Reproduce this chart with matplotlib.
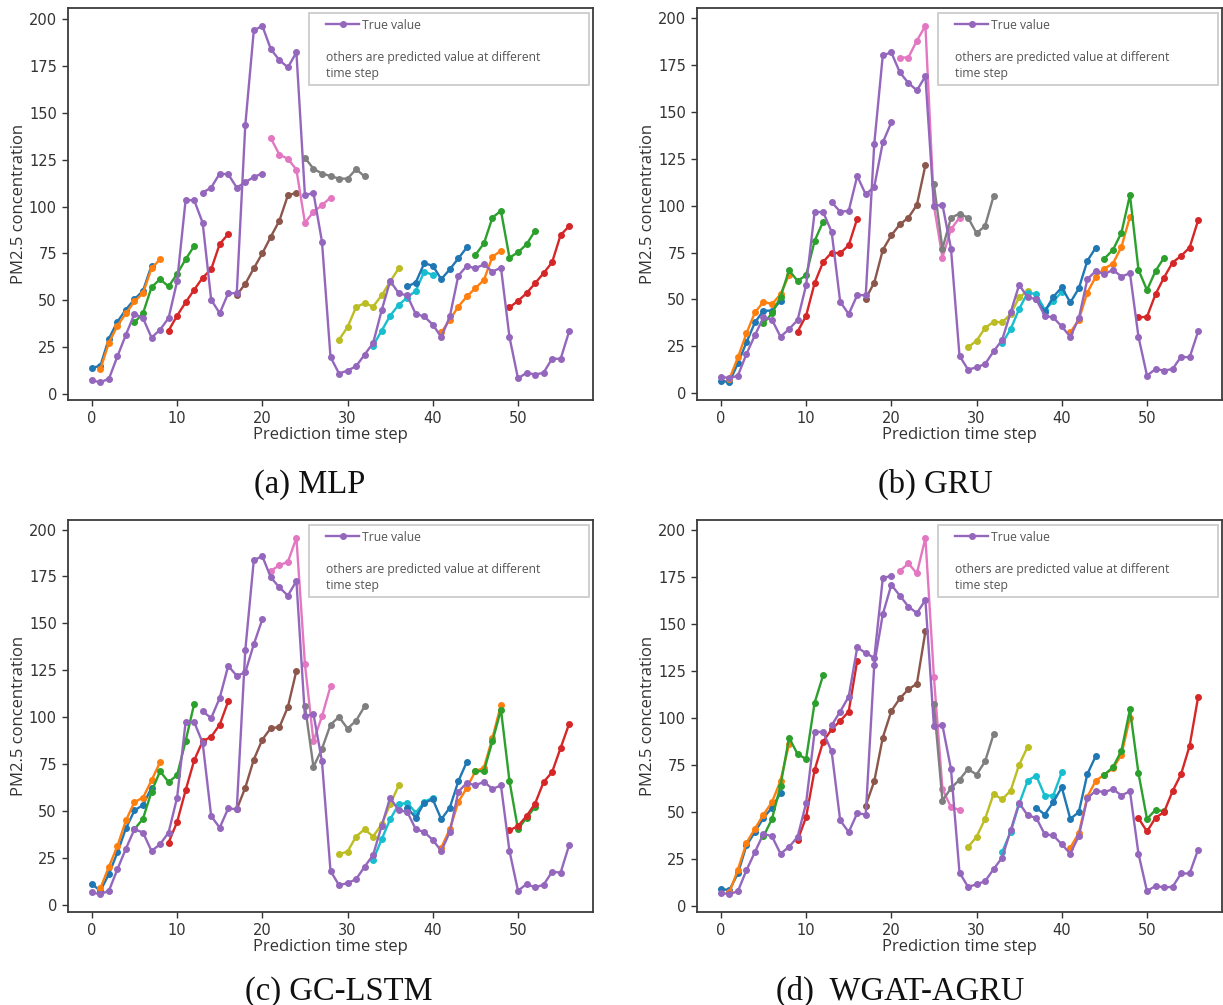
import numpy as np
import matplotlib
matplotlib.use('Agg')
from matplotlib import pyplot as plt
from matplotlib.lines import Line2D
from matplotlib.legend_handler import HandlerLine2D

# time steps of the true series, and where each 8-step prediction starts
steps = np.arange(57)
seg_starts = [0, 1, 5, 9, 13, 17, 21, 25, 29, 33, 37, 41, 45, 49]

true_mlp = [7.1, 6.2, 8.0, 20.0, 31.6, 42.7, 40.4, 30.0, 34.2, 40.4,
            60.0, 103.4, 103.4, 91.3, 50.2, 43.0, 53.7, 53.7, 143.3, 194.0,
            196.5, 184.0, 178.2, 174.3, 182.3, 106.0, 107.3, 81.2, 19.7, 10.8,
            12.4, 14.7, 20.9, 27.1, 44.5, 60.3, 53.7, 52.5, 42.6, 41.3,
            36.9, 30.3, 41.3, 63.1, 68.3, 67.0, 69.1, 65.2, 67.4, 30.3,
            8.2, 11.2, 10.3, 11.2, 18.8, 18.6, 33.3]
pred_mlp = [
    [13.8, 15.0, 29.5, 38.5, 45.0, 50.5, 55.0, 68.5],
    [13.1, 27.3, 36.3, 43.0, 49.3, 53.7, 67.0, 71.8],
    [38.1, 43.0, 56.9, 61.2, 57.3, 64.0, 71.8, 78.9],
    [33.7, 41.7, 48.8, 55.5, 62.0, 66.5, 80.0, 85.3],
    [107.4, 110.1, 117.6, 117.2, 110.1, 113.0, 115.8, 117.6],
    [52.8, 58.7, 67.0, 75.0, 83.9, 92.4, 106.0, 107.3],
    [136.5, 127.7, 125.5, 119.7, 91.3, 97.2, 100.7, 104.8],
    [126.0, 120.2, 117.6, 116.3, 114.9, 114.9, 119.9, 116.1],
    [28.9, 35.6, 46.3, 48.4, 46.6, 52.5, 59.9, 67.0],
    [25.7, 33.7, 41.7, 47.5, 51.4, 55.0, 65.2, 63.5],
    [57.3, 59.4, 69.7, 68.4, 61.2, 66.5, 72.3, 78.2],
    [32.8, 39.5, 46.6, 52.0, 56.4, 60.8, 73.2, 76.4],
    [74.1, 80.3, 94.1, 97.7, 72.7, 75.5, 79.8, 87.0],
    [46.1, 49.6, 53.7, 59.0, 64.4, 70.2, 84.8, 89.5],
]

true_gru = [8.9, 8.0, 9.4, 20.9, 31.0, 40.4, 39.2, 30.1, 34.2, 39.0,
            57.6, 96.6, 96.6, 86.0, 48.8, 42.2, 52.3, 52.3, 133.0, 180.2,
            181.7, 171.1, 165.4, 161.5, 169.0, 99.8, 100.5, 77.1, 20.0, 12.6,
            13.8, 15.6, 22.3, 28.4, 43.1, 57.8, 51.1, 50.2, 41.3, 40.4,
            35.6, 30.1, 39.9, 60.8, 65.2, 63.5, 65.8, 62.2, 64.0, 30.1,
            9.4, 12.9, 12.1, 12.9, 19.5, 19.1, 33.0]
pred_gru = [
    [6.7, 5.9, 16.0, 27.1, 37.8, 44.0, 44.0, 49.3],
    [7.6, 19.1, 31.9, 43.1, 48.8, 47.5, 52.8, 63.0],
    [37.2, 42.6, 51.4, 65.6, 59.9, 62.9, 81.2, 91.5],
    [32.8, 41.3, 58.7, 70.0, 75.0, 74.6, 78.9, 93.1],
    [101.9, 96.8, 97.2, 115.8, 106.0, 110.1, 133.7, 144.4],
    [50.5, 59.0, 76.4, 84.2, 90.0, 93.6, 100.4, 121.6],
    [179.0, 179.0, 188.0, 195.9, 100.0, 72.3, 87.4, 93.6],
    [111.3, 77.1, 93.6, 95.7, 93.6, 85.3, 89.2, 105.1],
    [24.5, 28.0, 34.8, 38.1, 37.8, 42.2, 51.1, 54.6],
    [26.6, 34.2, 44.9, 53.7, 52.8, 44.5, 49.0, 54.0],
    [50.0, 43.5, 51.4, 56.4, 48.4, 55.9, 70.6, 77.7],
    [32.4, 39.2, 53.7, 62.2, 66.5, 69.1, 78.0, 94.1],
    [71.8, 76.4, 85.6, 105.7, 65.8, 55.0, 65.2, 72.3],
    [40.4, 40.8, 52.8, 61.7, 69.7, 73.2, 77.7, 92.2],
]

true_gclstm = [6.7, 5.8, 7.6, 19.1, 30.1, 40.4, 38.6, 28.8, 32.4, 38.6,
               57.2, 97.5, 97.5, 86.4, 47.4, 41.2, 51.5, 51.0, 135.6, 183.7,
               185.8, 174.5, 169.2, 164.8, 172.6, 100.5, 101.8, 76.6, 18.2, 10.6,
               11.7, 13.8, 20.4, 26.7, 42.1, 57.2, 50.4, 49.7, 40.4, 38.9,
               34.7, 28.8, 38.9, 60.4, 65.1, 63.7, 65.7, 61.9, 63.7, 28.8,
               7.6, 11.2, 9.4, 10.8, 17.7, 17.3, 31.9]
pred_gclstm = [
    [11.2, 7.6, 16.5, 28.0, 40.9, 50.4, 53.3, 62.5],
    [9.0, 20.4, 31.5, 45.1, 54.9, 57.2, 66.4, 76.1],
    [40.4, 46.0, 60.4, 71.3, 65.5, 69.2, 87.3, 107.1],
    [33.3, 44.2, 61.1, 77.0, 87.3, 89.6, 96.1, 108.5],
    [103.2, 99.6, 110.3, 127.4, 122.1, 123.9, 138.9, 152.2],
    [51.0, 62.5, 77.5, 88.1, 94.3, 94.7, 105.5, 124.8],
    [178.0, 181.0, 182.8, 195.6, 128.3, 87.3, 100.5, 116.5],
    [106.2, 73.6, 83.2, 96.1, 100.2, 94.0, 98.2, 105.8],
    [27.1, 28.5, 36.5, 40.4, 36.5, 43.0, 53.6, 63.7],
    [23.9, 35.0, 45.7, 53.6, 54.5, 49.2, 54.9, 57.2],
    [51.9, 46.5, 54.5, 56.3, 45.7, 51.9, 66.0, 76.3],
    [30.6, 40.4, 54.9, 62.5, 71.3, 73.1, 89.0, 106.7],
    [71.3, 71.3, 87.3, 104.1, 66.0, 40.4, 46.5, 52.2],
    [39.8, 42.1, 47.4, 54.0, 65.5, 70.8, 83.7, 96.5],
]

true_wgat = [7.0, 6.3, 7.9, 19.0, 28.7, 38.4, 37.0, 27.8, 31.4, 36.7,
             54.6, 92.5, 92.5, 82.1, 45.5, 39.3, 49.3, 48.6, 128.3, 155.0,
             170.6, 164.9, 159.1, 155.6, 162.6, 95.5, 96.0, 72.8, 17.8, 10.2,
             11.5, 13.2, 19.6, 25.7, 40.2, 54.8, 48.1, 46.9, 38.1, 37.5,
             32.8, 27.8, 37.2, 57.3, 61.3, 60.4, 62.2, 58.7, 61.0, 27.8,
             7.9, 10.7, 9.9, 10.2, 17.3, 17.3, 30.0]
pred_wgat = [
    [9.0, 8.5, 17.3, 32.2, 39.3, 46.9, 52.2, 60.0],
    [7.2, 19.4, 33.5, 41.1, 48.6, 55.2, 66.6, 86.0],
    [37.0, 46.3, 64.0, 89.5, 80.7, 78.1, 108.0, 122.6],
    [34.9, 47.2, 72.2, 87.4, 93.9, 98.3, 103.3, 130.4],
    [96.0, 103.3, 111.2, 137.4, 134.4, 131.8, 174.1, 175.5],
    [53.4, 66.3, 89.5, 103.6, 110.3, 115.1, 118.1, 145.9],
    [178.0, 182.0, 176.7, 195.6, 121.6, 62.2, 52.5, 51.1],
    [107.1, 56.0, 62.6, 67.1, 72.8, 69.8, 76.8, 91.3],
    [31.4, 36.7, 46.3, 59.6, 56.6, 61.3, 75.1, 84.6],
    [28.7, 39.3, 54.3, 66.6, 69.3, 58.7, 58.7, 71.0],
    [52.2, 48.6, 55.2, 63.1, 46.3, 49.9, 70.1, 79.8],
    [31.0, 38.8, 58.1, 66.6, 69.8, 73.1, 80.4, 100.1],
    [69.8, 73.7, 82.5, 104.5, 70.5, 46.3, 51.1, 50.4],
    [46.7, 39.6, 46.9, 49.9, 61.0, 70.1, 85.1, 111.0],
]

captions = ['(a) MLP', '(b) GRU', '(c) GC-LSTM', '(d)  WGAT-AGRU']

LABEL_FONT = 'Open Sans'
TICK_FONT = 'Liberation Sans Narrow'
LEG_SIZE = 8.7


def draw_panel(ax, true_vals, preds):
    # predictions first, the true series then takes the next colour (purple)
    for start, vals in zip(seg_starts, preds):
        ax.plot(np.arange(start, start + len(vals)), vals, 'o-', lw=1.7, ms=4)
    line, = ax.plot(steps, true_vals, 'o-', lw=1.7, ms=4)

    ax.set_yticks(np.arange(0, 201, 25))
    ax.set_xticks(np.arange(0, 51, 10))
    ax.tick_params(colors='#333333', length=4.5, width=1.0, labelsize=10.5,
                   labelfontfamily=TICK_FONT)
    for s in ax.spines.values():
        s.set_color('#3c3c3c')
        s.set_linewidth(1.3)
    ax.set_xlabel('Prediction time step', family=LABEL_FONT, size=12,
                  color='#333333', labelpad=0.5)
    ax.set_ylabel('PM2.5 concentration', family=LABEL_FONT, size=12,
                  color='#333333', labelpad=1.0)

    blank = Line2D([], [], linestyle='none')
    leg = ax.legend([line, blank, blank, blank],
                    ['True value', ' ', 'others are predicted value at different', 'time step'],
                    loc='upper left', bbox_to_anchor=(0.459, 0, 0.534, 0.987),
                    mode='expand', borderaxespad=0, borderpad=0.45,
                    labelspacing=0.25, handlelength=3.67, handletextpad=0.25,
                    handler_map={line: HandlerLine2D(xpad=1.0)},
                    prop={'family': LABEL_FONT, 'size': LEG_SIZE},
                    labelcolor='#555555', fancybox=False,
                    edgecolor='#cccccc', framealpha=1)
    leg.get_frame().set_linewidth(1.3)
    # the note lines start where the handle starts
    shift = (3.67 - 1.0 + 0.25) * LEG_SIZE * 100 / 72
    for t in leg.get_texts()[1:]:
        t.set_x(-shift)


fig = plt.figure(figsize=(12.23, 10.05), dpi=100)
W, H = 1223, 1005
ax_w, ax_h = 525 / W, 392 / H
positions = [(68, 400), (697, 400), (68, 912), (697, 912)]
caption_xy = [(310, 493), (935, 493), (339, 1000), (900, 1000)]
panels = [(true_mlp, pred_mlp), (true_gru, pred_gru),
          (true_gclstm, pred_gclstm), (true_wgat, pred_wgat)]

for (px, pb), (tv, pv), cap, (cx, cy) in zip(positions, panels, captions, caption_xy):
    ax = fig.add_axes([px / W, 1 - pb / H, ax_w, ax_h])
    draw_panel(ax, tv, pv)
    fig.text(cx / W, 1 - cy / H, cap, ha='center', va='baseline',
             family='Liberation Serif', size=23.5, color='#111111')

fig.savefig('out.png', dpi=100)
